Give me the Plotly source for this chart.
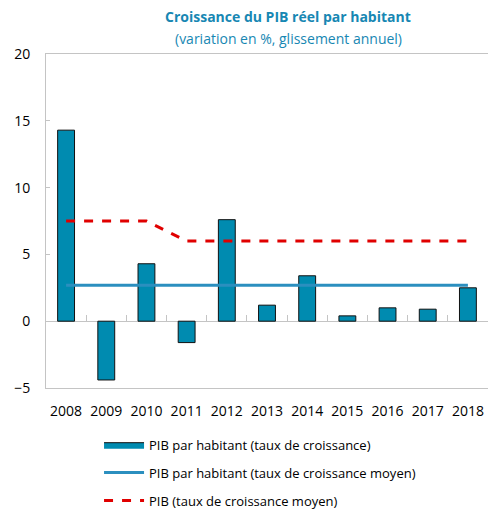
import plotly.graph_objects as go

years = ["2008", "2009", "2010", "2011", "2012", "2013", "2014", "2015", "2016", "2017", "2018"]
pib_hab = [14.3, -4.4, 4.3, -1.6, 7.6, 1.2, 3.4, 0.4, 1.0, 0.9, 2.5]
pib_hab_moy = [2.7] * 11
pib_moy = [7.5, 7.5, 7.5, 6.0, 6.0, 6.0, 6.0, 6.0, 6.0, 6.0, 6.0]

font = "Open Sans, Noto Sans, sans-serif"
teal = "#1787b3"
bar_color = "#008bb0"
grey = "#c4c4c4"

fig = go.Figure()
fig.add_trace(go.Bar(
    x=years, y=pib_hab, name="PIB par habitant (taux de croissance)",
    marker=dict(color=bar_color, line=dict(color="#111111", width=1)),
    showlegend=False,
))
# legend entry for the bars, drawn as a wide rectangle
fig.add_trace(go.Scatter(
    x=[None], y=[None], name="PIB par habitant (taux de croissance)",
    mode="lines", fill="toself", fillcolor=bar_color,
    line=dict(color="#111111", width=1), legendgroup="a",
))
fig.add_trace(go.Scatter(
    x=years, y=pib_hab_moy, mode="lines",
    name="PIB par habitant (taux de croissance moyen)",
    line=dict(color="#2b8fbf", width=3), legendgroup="b",
))
fig.add_trace(go.Scatter(
    x=years, y=pib_moy, mode="lines",
    name="PIB (taux de croissance moyen)",
    line=dict(color="#e00000", width=3, dash="dash"), legendgroup="c",
))
# invisible carrier so the zero-line tick axis gets drawn
fig.add_trace(go.Scatter(
    x=[0], y=[0], xaxis="x2", mode="markers", marker=dict(opacity=0),
    showlegend=False, hoverinfo="skip",
))

fig.update_layout(
    width=488, height=511,
    margin=dict(l=46, r=0, t=54, b=123, autoexpand=False),
    plot_bgcolor="white", paper_bgcolor="white",
    font=dict(family=font, size=14, color="#000000"),
    bargap=0.58,
    showlegend=True,
    legend=dict(
        x=0.12, y=-0.125, xanchor="left", yanchor="top",
        font=dict(size=13), itemwidth=40, tracegroupgap=8,
        traceorder="grouped",
    ),
    xaxis=dict(
        type="category", range=[-0.5, 10.5], automargin=False,
        showline=True, linecolor=grey, linewidth=1, mirror=True,
        ticks="", showgrid=False, ticklabelstandoff=10,
    ),
    xaxis2=dict(
        overlaying="x", anchor="free", position=0.2, side="top",
        range=[-0.5, 10.5], tickmode="array", automargin=False,
        tickvals=[i + 0.5 for i in range(10)],
        ticks="outside", ticklen=6, tickcolor=grey, tickwidth=1,
        showticklabels=False, showline=False, showgrid=False, zeroline=False,
    ),
    yaxis=dict(
        range=[-5, 20], tickvals=[-5, 0, 5, 10, 15, 20], automargin=False,
        showline=True, linecolor=grey, linewidth=1, mirror=True,
        ticks="inside", ticklen=4, tickcolor=grey,
        showgrid=False, zeroline=True, zerolinecolor=grey, zerolinewidth=1,
        ticklabelstandoff=12,
    ),
    annotations=[
        dict(text="<b>Croissance du PIB réel par habitant</b>", xref="paper", yref="paper",
             x=0.548, y=1.0, yanchor="middle", yshift=38, showarrow=False,
             font=dict(size=14, color=teal)),
        dict(text="(variation en %, glissement annuel)", xref="paper", yref="paper",
             x=0.548, y=1.0, yanchor="middle", yshift=16, showarrow=False,
             font=dict(size=14, color=teal)),
    ],
)

fig.write_html("out.html", config={"displayModeBar": False},
               post_script="document.body.style.margin='0';")
